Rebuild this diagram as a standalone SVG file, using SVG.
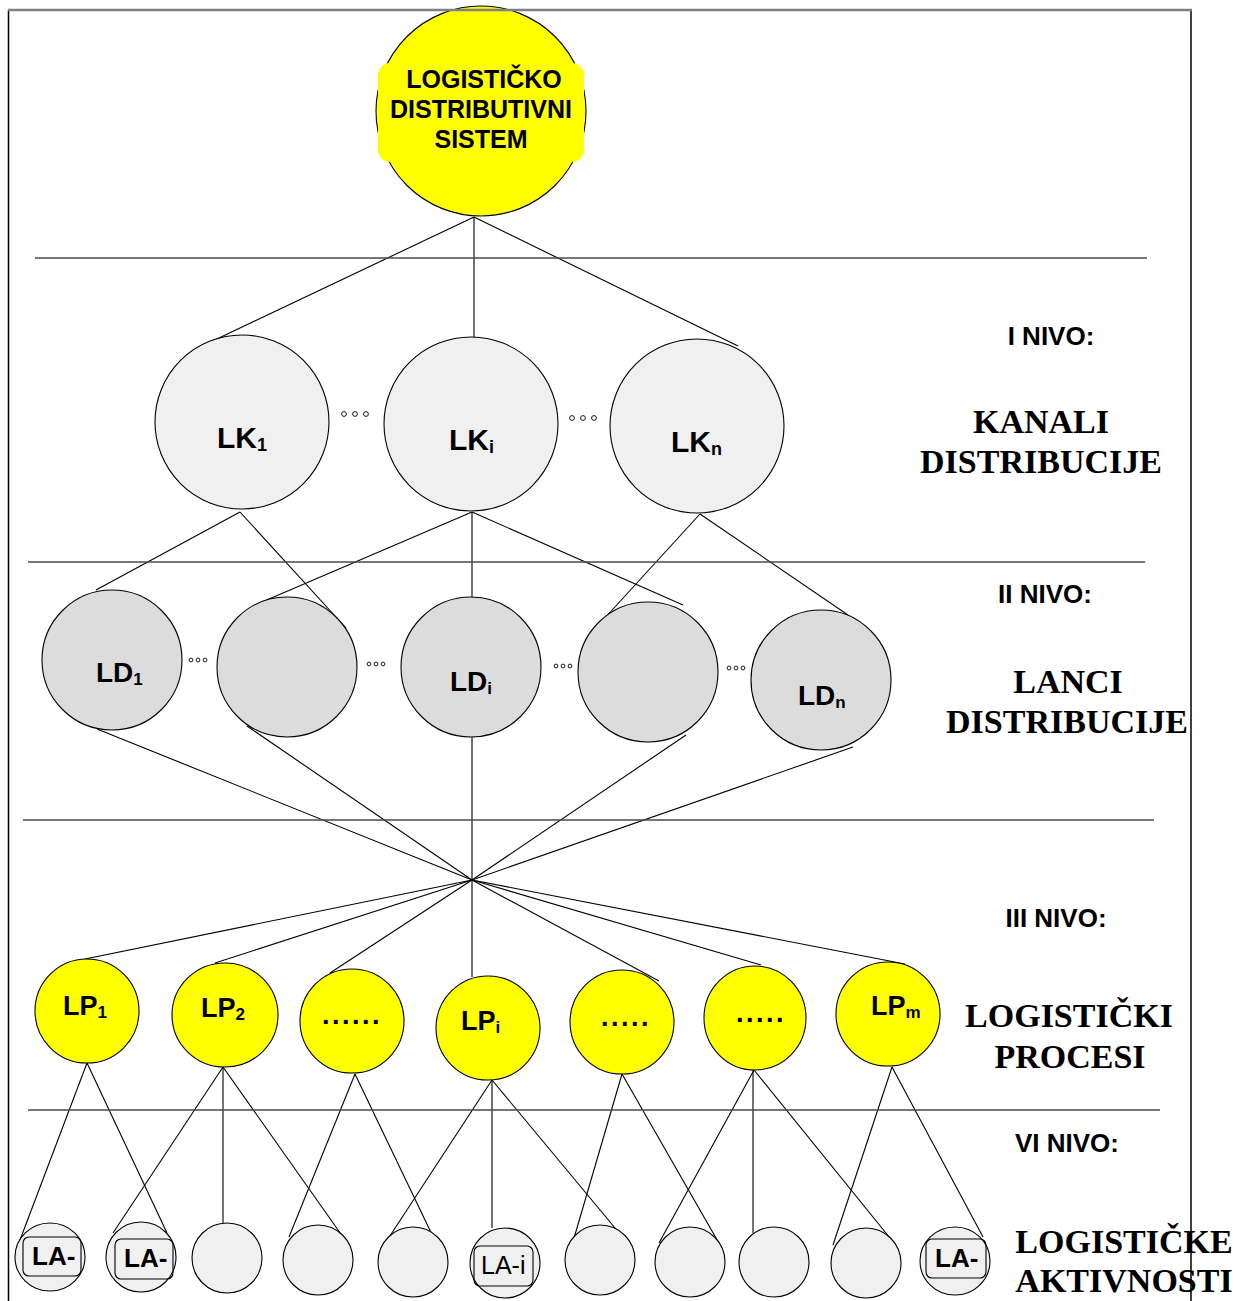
<svg xmlns="http://www.w3.org/2000/svg" width="1240" height="1301" viewBox="0 0 1240 1301">
<style>
.bg{fill:#ffffff}
.frame{stroke:#000;stroke-width:1.5;fill:none}
.frameTop{stroke:#808080;stroke-width:2.5;fill:none}
.div{stroke:#4a4a4a;stroke-width:1.3;fill:none}
.con line{stroke:#000;stroke-width:1.1}
.nd{stroke:#000;stroke-width:1.1}
.yel{fill:#ffff00}
.lk{fill:#f0f0f0}
.ld{fill:#dcdcdc}
.la{fill:#f0f0f0}
.sans{font-family:"Liberation Sans",Arial,sans-serif;font-weight:bold;fill:#000}
.serif{font-family:"Liberation Serif","Times New Roman",serif;font-weight:bold;fill:#000;font-size:34px;text-anchor:middle}
.top{font-size:25px;text-anchor:middle}
.big{font-size:30px}
.ldt{font-size:28px}
.lpt{font-size:27px}
.lat{font-size:26px}
.nivo{font-size:26px;text-anchor:middle}
.dot{fill:none;stroke:#000;stroke-width:0.9}
.box{fill:none;stroke:#000;stroke-width:1.1}
</style>
<rect class="bg" x="0" y="0" width="1240" height="1301"/>

<g id="connectors" class="con">
<line x1="474" y1="217" x2="200" y2="347"/>
<line x1="474" y1="217" x2="474" y2="337"/>
<line x1="474" y1="217" x2="738" y2="346"/>
<line x1="240" y1="512" x2="96" y2="590"/>
<line x1="240" y1="512" x2="346" y2="628"/>
<line x1="472" y1="512" x2="262" y2="602"/>
<line x1="472" y1="512" x2="472" y2="598"/>
<line x1="472" y1="512" x2="683" y2="605"/>
<line x1="700" y1="514" x2="603" y2="620"/>
<line x1="700" y1="514" x2="848" y2="615"/>
<line x1="97" y1="729" x2="472" y2="880"/>
<line x1="247" y1="726" x2="472" y2="880"/>
<line x1="472" y1="737" x2="472" y2="977"/>
<line x1="686" y1="735" x2="472" y2="880"/>
<line x1="853" y1="747" x2="472" y2="880"/>
<line x1="472" y1="880" x2="85" y2="959"/>
<line x1="472" y1="880" x2="215" y2="963"/>
<line x1="472" y1="880" x2="330" y2="973"/>
<line x1="472" y1="880" x2="659" y2="981"/>
<line x1="472" y1="880" x2="761" y2="965"/>
<line x1="472" y1="880" x2="905" y2="964"/>
<line x1="87" y1="1063" x2="20" y2="1240"/>
<line x1="87" y1="1063" x2="167" y2="1233"/>
<line x1="223" y1="1067" x2="113" y2="1233"/>
<line x1="223" y1="1067" x2="223" y2="1223"/>
<line x1="223" y1="1067" x2="343" y2="1237"/>
<line x1="355" y1="1074" x2="289" y2="1237"/>
<line x1="355" y1="1074" x2="437" y2="1245"/>
<line x1="492" y1="1080" x2="384" y2="1245"/>
<line x1="492" y1="1080" x2="492" y2="1228"/>
<line x1="492" y1="1080" x2="625" y2="1240"/>
<line x1="622" y1="1074" x2="572" y2="1245"/>
<line x1="622" y1="1074" x2="720" y2="1245"/>
<line x1="754" y1="1070" x2="659" y2="1243"/>
<line x1="753" y1="1070" x2="753" y2="1233"/>
<line x1="754" y1="1070" x2="894" y2="1243"/>
<line x1="892" y1="1067" x2="833" y2="1245"/>
<line x1="892" y1="1067" x2="983" y2="1237"/>
</g>

<g id="dividers">
<line class="div" x1="35" y1="258" x2="1147" y2="258"/>
<line class="div" x1="28" y1="562" x2="1145" y2="562"/>
<line class="div" x1="23" y1="820" x2="1154" y2="820"/>
<line class="div" x1="28" y1="1110" x2="1160" y2="1110"/>
</g>

<g id="root">
<ellipse class="nd yel" cx="481" cy="111" rx="105" ry="105"/>
<rect class="yel" x="378" y="63" width="206" height="99" rx="12"/>
<text class="sans top" x="484" y="88">LOGISTIČKO</text>
<text class="sans top" x="481" y="118">DISTRIBUTIVNI</text>
<text class="sans top" x="481" y="148">SISTEM</text>
</g>

<g id="LK1"><ellipse class="nd lk" cx="242" cy="422" rx="87" ry="87"/><text class="sans big" x="217" y="448">LK<tspan font-size="18" dy="3">1</tspan></text></g>
<g id="LKi"><ellipse class="nd lk" cx="471" cy="424" rx="87" ry="87"/><text class="sans big" x="449" y="450">LK<tspan font-size="18" dy="3">i</tspan></text></g>
<g id="LKn"><ellipse class="nd lk" cx="697" cy="426" rx="87" ry="87"/><text class="sans big" x="671" y="452">LK<tspan font-size="18" dy="3">n</tspan></text></g>
<g id="lk-dots">
<circle class="dot" cx="344" cy="414" r="2.4"/><circle class="dot" cx="355" cy="414" r="2.4"/><circle class="dot" cx="366" cy="414" r="2.4"/>
<circle class="dot" cx="572" cy="418" r="2.4"/><circle class="dot" cx="583" cy="418" r="2.4"/><circle class="dot" cx="594" cy="418" r="2.4"/>
</g>

<g id="LD1"><ellipse class="nd ld" cx="112" cy="660" rx="70" ry="70"/><text class="sans ldt" x="96" y="682">LD<tspan font-size="17" dy="3">1</tspan></text></g>
<g id="LD2"><ellipse class="nd ld" cx="287" cy="667" rx="70" ry="70"/></g>
<g id="LDi"><ellipse class="nd ld" cx="471" cy="667" rx="70" ry="70"/><text class="sans ldt" x="450" y="691">LD<tspan font-size="17" dy="3">i</tspan></text></g>
<g id="LD4"><ellipse class="nd ld" cx="648" cy="672" rx="70" ry="70"/></g>
<g id="LDn"><ellipse class="nd ld" cx="821" cy="680" rx="70" ry="70"/><text class="sans ldt" x="798" y="705">LD<tspan font-size="17" dy="3">n</tspan></text></g>
<g id="ld-dots">
<circle class="dot" cx="191" cy="660" r="1.9"/><circle class="dot" cx="198" cy="660" r="1.9"/><circle class="dot" cx="205" cy="660" r="1.9"/>
<circle class="dot" cx="369" cy="664" r="1.9"/><circle class="dot" cx="376" cy="664" r="1.9"/><circle class="dot" cx="383" cy="664" r="1.9"/>
<circle class="dot" cx="556" cy="666" r="1.9"/><circle class="dot" cx="563" cy="666" r="1.9"/><circle class="dot" cx="570" cy="666" r="1.9"/>
<circle class="dot" cx="729" cy="668" r="1.9"/><circle class="dot" cx="736" cy="668" r="1.9"/><circle class="dot" cx="743" cy="668" r="1.9"/>
</g>

<g id="LP1"><ellipse class="nd yel" cx="87" cy="1011" rx="52" ry="52"/><text class="sans lpt" x="63" y="1015">LP<tspan font-size="17" dy="3">1</tspan></text></g>
<g id="LP2"><ellipse class="nd yel" cx="225" cy="1015" rx="53" ry="52"/><text class="sans lpt" x="201" y="1017">LP<tspan font-size="17" dy="3">2</tspan></text></g>
<g id="LP3"><ellipse class="nd yel" cx="352" cy="1021" rx="52" ry="52"/><text class="sans lpt" x="352" y="1024" text-anchor="middle" letter-spacing="2.5">......</text></g>
<g id="LPi"><ellipse class="nd yel" cx="488" cy="1028" rx="52" ry="52"/><text class="sans lpt" x="461" y="1030">LP<tspan font-size="17" dy="3">i</tspan></text></g>
<g id="LP5"><ellipse class="nd yel" cx="622" cy="1022" rx="52" ry="52"/><text class="sans lpt" x="626" y="1026" text-anchor="middle" letter-spacing="2.5">.....</text></g>
<g id="LP6"><ellipse class="nd yel" cx="755" cy="1018" rx="51" ry="52"/><text class="sans lpt" x="761" y="1022" text-anchor="middle" letter-spacing="2.5">.....</text></g>
<g id="LPm"><ellipse class="nd yel" cx="888" cy="1014" rx="52" ry="52"/><text class="sans lpt" x="871" y="1015">LP<tspan font-size="17" dy="3">m</tspan></text></g>

<g id="LA1"><ellipse class="nd la" cx="50" cy="1257" rx="35" ry="34"/><rect class="box" x="23" y="1237" width="58" height="39" rx="6"/><text class="sans lat" x="32" y="1265">LA-</text></g>
<g id="LA2"><ellipse class="nd la" cx="141" cy="1257" rx="35" ry="35"/><rect class="box" x="115" y="1239" width="58" height="40" rx="6"/><text class="sans lat" x="124" y="1267">LA-</text></g>
<g id="LA3"><ellipse class="nd la" cx="227" cy="1258" rx="35" ry="35"/></g>
<g id="LA4"><ellipse class="nd la" cx="318" cy="1260" rx="35" ry="35"/></g>
<g id="LA5"><ellipse class="nd la" cx="413" cy="1262" rx="35" ry="35"/></g>
<g id="LA6"><ellipse class="nd la" cx="505" cy="1263" rx="35" ry="35"/><rect class="box" x="474" y="1246" width="59" height="40" rx="6"/><text x="481" y="1274" font-family="Liberation Sans, Arial, sans-serif" font-size="25">LA-i</text></g>
<g id="LA7"><ellipse class="nd la" cx="600" cy="1260" rx="35" ry="35"/></g>
<g id="LA8"><ellipse class="nd la" cx="690" cy="1262" rx="35" ry="35"/></g>
<g id="LA9"><ellipse class="nd la" cx="774" cy="1262" rx="35" ry="35"/></g>
<g id="LA10"><ellipse class="nd la" cx="866" cy="1263" rx="35" ry="35"/></g>
<g id="LA11"><ellipse class="nd la" cx="955" cy="1261" rx="35" ry="34"/><rect class="box" x="926" y="1239" width="60" height="39" rx="6"/><text class="sans lat" x="935" y="1267">LA-</text></g>

<g id="labels">
<text class="sans nivo" x="1051" y="345">I NIVO:</text>
<text class="serif" x="1041" y="433">KANALI</text>
<text class="serif" x="1041" y="473">DISTRIBUCIJE</text>
<text class="sans nivo" x="1045" y="603">II NIVO:</text>
<text class="serif" x="1068" y="693">LANCI</text>
<text class="serif" x="1067" y="733">DISTRIBUCIJE</text>
<text class="sans nivo" x="1056" y="927">III NIVO:</text>
<text class="serif" x="1069" y="1027">LOGISTIČKI</text>
<text class="serif" x="1070" y="1068">PROCESI</text>
<text class="sans nivo" x="1067" y="1152">VI NIVO:</text>
<text class="serif" x="1124" y="1253">LOGISTIČKE</text>
<text class="serif" x="1124" y="1292">AKTIVNOSTI</text>
</g>

<g id="frame">
<line class="frame" x1="8.5" y1="10" x2="8.5" y2="1301"/>
<line class="frame" x1="1191" y1="10" x2="1191" y2="1301"/>
<line class="frameTop" x1="8" y1="10" x2="1192" y2="10"/>
</g>
</svg>
